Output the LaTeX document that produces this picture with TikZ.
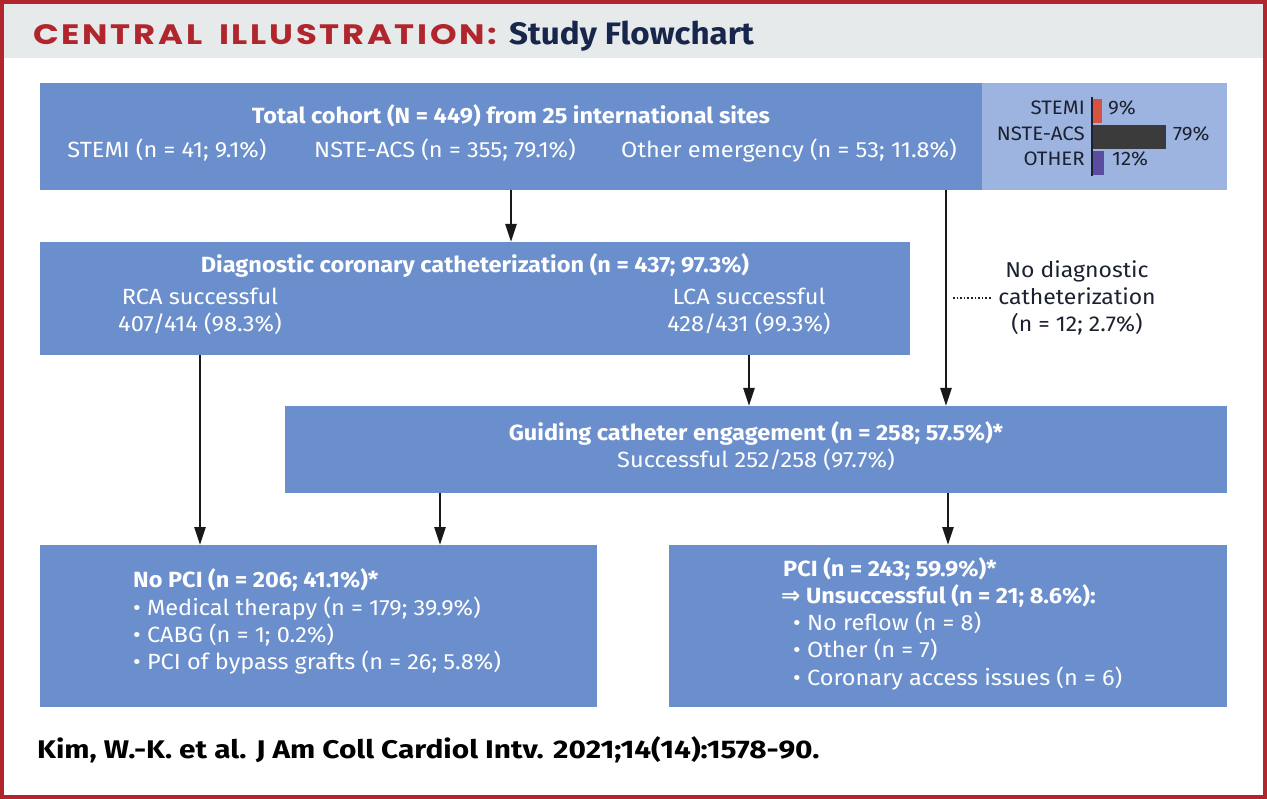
\documentclass[tikz,border=0pt]{standalone}
\usepackage{fontspec}
\usepackage{graphicx}
\usetikzlibrary{arrows.meta}
\setmainfont{Fira Sans}[FakeStretch=1.07]
\newfontfamily\chartfont{Fira Sans}[FakeStretch=1.05]
\newfontfamily\titlefont{Poppins}[LetterSpace=8]
\newfontfamily\navyfont{Fira Sans}[FakeStretch=1.07]
\newfontfamily\footfont{Fira Sans}[FakeStretch=1.17]
\newfontfamily\arrowfont{DejaVu Sans}
\definecolor{framered}{HTML}{B0262C}
\definecolor{titlered}{HTML}{B0262C}
\definecolor{navy}{HTML}{17264A}
\definecolor{headgray}{HTML}{E6EAEB}
\definecolor{boxblue}{HTML}{6B8FCC}
\definecolor{lightblue}{HTML}{9DB4E0}
\definecolor{barred}{HTML}{D5533F}
\definecolor{bargray}{HTML}{3B3B3B}
\definecolor{barpurple}{HTML}{5A4C9E}
\definecolor{darktext}{HTML}{1C2130}
\tikzset{
  box/.style={fill=boxblue, draw=none, anchor=north west, inner sep=0pt},
  lbox/.style={fill=lightblue, draw=none, anchor=north west, inner sep=0pt},
  txt/.style={text=white, font=\fontsize{22}{26}\selectfont, inner sep=0pt, anchor=mid},
  btxt/.style={txt, font=\fontsize{22}{26}\selectfont\bfseries},
  ltxt/.style={txt, anchor=mid west},
  dtxt/.style={text=darktext, font=\chartfont\fontsize{19.5}{22}\selectfont, inner sep=0pt},
  arr/.style={line width=2.6pt, black!90, -{Triangle[length=18pt,width=11pt]}},
}
\begin{document}
\begin{tikzpicture}[x=1pt,y=-1pt]
\useasboundingbox (0,0) rectangle (1267,799);
% header band and frame
\fill[headgray] (0,0) rectangle (1267,58);
\draw[framered, line width=4pt] (2,2) rectangle (1265,797);
\node[anchor=base west, inner sep=0pt] (title) at (33,44.5)
  {\resizebox{464pt}{20pt}{\titlefont\bfseries\color{titlered}CENTRAL\hspace{0.5em}ILLUSTRATION:}};
\node[anchor=base west, inner sep=0pt] (title2) at (509,44.5)
  {\navyfont\fontsize{31}{34}\selectfont\bfseries\color{navy}Study Flowchart};
% boxes
\node[box, minimum width=942pt, minimum height=107pt] (b1) at (40,83) {};
\node[lbox, minimum width=245pt, minimum height=107pt] (b1r) at (982,83) {};
\node[box, minimum width=870pt, minimum height=113pt] (b2) at (40,242) {};
\node[box, minimum width=942pt, minimum height=87pt] (b3) at (285,406) {};
\node[box, minimum width=557pt, minimum height=162pt] (b4) at (40,545) {};
\node[box, minimum width=558pt, minimum height=162pt] (b5) at (669,545) {};
% box 1 text
\node[btxt] (t1) at (511,121) {Total cohort (N = 449) from 25 international sites};
\node[txt] (t1a) at (167,155) {STEMI (n = 41; 9.1\%)};
\node[txt] (t1b) at (445,155) {NSTE-ACS (n = 355; 79.1\%)};
\node[txt] (t1c) at (789,155) {Other emergency (n = 53; 11.8\%)};
% bar chart
\node[dtxt, anchor=mid east] (ls) at (1085,112) {STEMI};
\node[dtxt, anchor=mid east] (ln) at (1085,138) {NSTE-ACS};
\node[dtxt, anchor=mid east] (lo) at (1085,163) {OTHER};
\fill[barred] (1092,99) rectangle (1102,123);
\fill[bargray] (1092,125) rectangle (1166,149);
\fill[barpurple] (1092,151) rectangle (1104,175);
\draw[line width=2pt, darktext] (1092,97) -- (1092,176);
\node[dtxt, anchor=mid west] (ps) at (1108,112) {9\%};
\node[dtxt, anchor=mid west] (pn) at (1173,138) {79\%};
\node[dtxt, anchor=mid west] (po) at (1112,163) {12\%};
% box 2 text
\node[btxt] (t2) at (475,270) {Diagnostic coronary catheterization (n = 437; 97.3\%)};
\node[txt] (t2a) at (200,302) {RCA successful};
\node[txt] (t2b) at (200,329) {407/414 (98.3\%)};
\node[txt] (t2c) at (749,302) {LCA successful};
\node[txt] (t2d) at (749,329) {428/431 (99.3\%)};
% box 3 text
\node[btxt] (t3) at (756,438) {Guiding catheter engagement (n = 258; 57.5\%)*};
\node[txt] (t3a) at (756,465) {Successful 252/258 (97.7\%)};
% box 4 text
\node[btxt, anchor=mid west] (t4) at (133,585) {No PCI (n = 206; 41.1\%)*};
\node[ltxt] (t4a) at (133,613) {\textbullet\ Medical therapy (n = 179; 39.9\%)};
\node[ltxt] (t4b) at (133,640) {\textbullet\ CABG (n = 1; 0.2\%)};
\node[ltxt] (t4c) at (133,667) {\textbullet\ PCI of bypass grafts (n = 26; 5.8\%)};
% box 5 text
\node[btxt, anchor=mid west] (t5) at (783,574) {PCI (n = 243; 59.9\%)*};
\node[btxt, anchor=mid west] (t5a) at (781,601) {{\arrowfont\fontsize{23}{26}\selectfont\bfseries ⇒} Unsuccessful (n = 21; 8.6\%):};
\node[ltxt] (t5b) at (793,628) {\textbullet\ No reflow (n = 8)};
\node[ltxt] (t5c) at (793,655) {\textbullet\ Other (n = 7)};
\node[ltxt] (t5d) at (793,683) {\textbullet\ Coronary access issues (n = 6)};
% side label
\node[text=darktext, inner sep=0pt, align=center, font=\fontsize{21.5}{27}\selectfont] (nd) at (1077,298)
  {No diagnostic\\catheterization\\(n = 12; 2.7\%)};
% arrow columns
\coordinate (xa) at (511,0);
\coordinate (xb) at (946,0);
\coordinate (xc) at (200,0);
\coordinate (xd) at (749,0);
\coordinate (xe) at (440,0);
\coordinate (xf) at (948,0);
\coordinate (dl) at (953,298);
\draw[arr] (xa |- b1.south) -- (xa |- b2.north);
\draw[arr] (xb |- b1.south) -- (xb |- b3.north);
\draw[arr] (xc |- b2.south) -- (xc |- b4.north);
\draw[arr] (xd |- b2.south) -- (xd |- b3.north);
\draw[arr] (xe |- b3.south) -- (xe |- b4.north);
\draw[arr] (xf |- b3.south) -- (xf |- b5.north);
\draw[line width=1.6pt, dotted, darktext] (dl) -- ([xshift=-6pt]nd.west |- dl);
% footer
\node[anchor=mid west, inner sep=0pt] (foot) at (37,756)
  {\footfont\fontsize{25.5}{30}\selectfont\bfseries Kim, W.-K. et al. J Am Coll Cardiol Intv. 2021;14(14):1578-90.};
\end{tikzpicture}
\end{document}
